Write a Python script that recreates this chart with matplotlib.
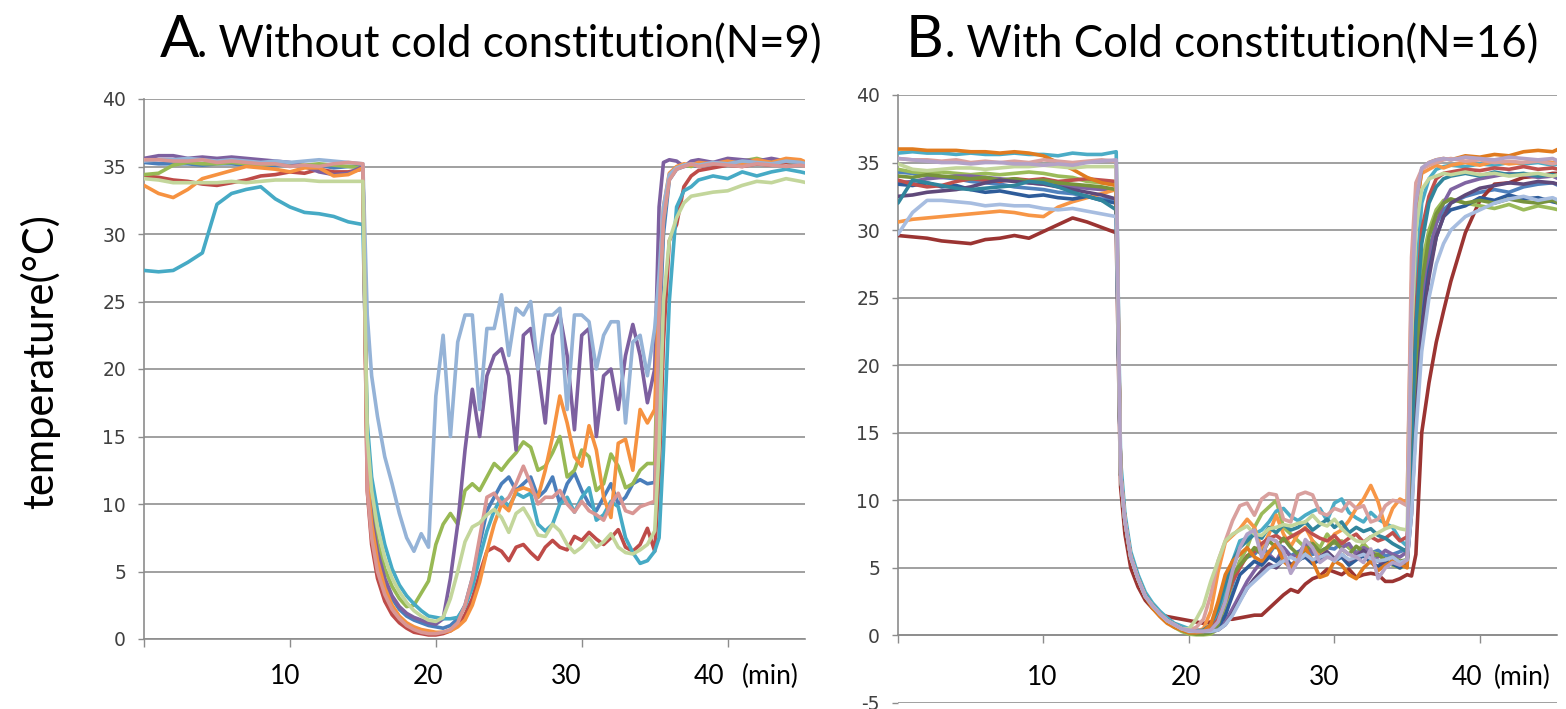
import matplotlib
matplotlib.use("Agg")
import matplotlib.pyplot as plt

plt.rcParams['font.family'] = ['Lato', 'DejaVu Sans']
plt.rcParams['axes.unicode_minus'] = False

# ---------------- time axis (minutes) ----------------
t = [0, 1, 2, 3, 4, 5, 6, 7, 8, 9, 10, 11, 12, 13, 14, 15,
     15.3, 15.6, 16, 16.5, 17, 17.5, 18, 18.5, 19, 19.5,
     20, 20.5, 21, 21.5, 22, 22.5, 23, 23.5, 24, 24.5, 25, 25.5, 26, 26.5, 27, 27.5,
     28, 28.5, 29, 29.5, 30, 30.5, 31, 31.5, 32, 32.5, 33, 33.5, 34, 34.5, 35,
     35.3, 35.6, 36, 36.5, 37, 37.5, 38, 39, 40, 41, 42, 43, 44, 45, 45.4]

# ---------------- Panel A: without cold constitution (N=9) ----------------
a1 = [35.3, 35.2, 35.2, 35.2, 35.1, 35.2, 35.2, 35.1, 35.0, 35.1, 35.2, 35.0, 35.1, 34.9, 35.0, 35.0,
      13, 9, 6.3, 4.3, 3.0, 2.2, 1.7, 1.4, 1.2, 1.0,
      0.9, 0.8, 1.0, 1.5, 2.5, 4.5, 7.0, 9.5, 10.5, 11.5, 12.0, 11.0, 11.5, 12.0, 10.5, 11.0,
      12.0, 10.0, 11.5, 12.3, 11.0, 10.0, 9.5, 10.5, 11.5, 10.0, 10.5, 11.5, 11.8, 11.5, 11.6,
      22, 30, 34, 34.8, 35.0, 35.1, 35.0, 35.2, 35.1, 35.3, 35.2, 35.4, 35.3, 35.2, 35.1]
a2 = [34.3, 34.2, 34.0, 33.9, 33.7, 33.6, 33.8, 34.0, 34.3, 34.4, 34.6, 34.5, 34.8, 34.6, 34.6, 34.8,
      11, 7, 4.5, 2.8, 1.8, 1.2, 0.8, 0.5, 0.4, 0.3,
      0.3, 0.4, 0.6, 1.0, 1.8, 3.0, 4.8, 6.5, 6.8, 6.5, 5.8, 6.8, 7.0, 6.4, 5.9, 6.8,
      7.3, 6.8, 6.6, 7.6, 7.3, 7.9, 7.4, 7.0, 7.5, 8.1, 6.8, 6.5, 7.0, 8.2, 6.5,
      12, 22, 29.5, 30.7, 33.5, 34.3, 34.7, 34.9, 35.1, 35.0, 35.2, 35.1, 35.3, 35.2, 35.1]
a3 = [34.4, 34.5, 35.1, 35.3, 35.2, 35.2, 35.3, 35.2, 35.1, 35.2, 35.2, 35.1, 35.2, 35.1, 35.0, 34.9,
      14, 10, 7.2, 5.2, 3.9, 3.0, 2.4, 2.5, 3.4, 4.3,
      7.0, 8.5, 9.3, 8.5, 11.0, 11.5, 11.0, 12.0, 13.0, 12.5, 13.2, 13.8, 14.6, 14.2, 12.5, 12.8,
      13.8, 15.0, 12.0, 12.5, 14.0, 13.5, 11.0, 11.5, 13.7, 12.8, 11.2, 11.5, 12.5, 13.0, 13.0,
      25, 31, 34.2, 34.9, 35.1, 35.0, 35.2, 35.3, 35.2, 35.4, 35.6, 35.3, 35.4, 35.2, 35.0]
a4 = [35.6, 35.8, 35.8, 35.6, 35.7, 35.6, 35.7, 35.6, 35.5, 35.4, 35.3, 35.0, 34.6, 34.4, 34.5, 35.0,
      13, 9, 6.5, 4.5, 3.2, 2.4, 1.9, 1.6, 1.4, 1.2,
      1.1, 1.5, 4.5, 8.5, 14.0, 18.5, 15.0, 19.5, 21.0, 21.5, 19.5, 14.0, 22.5, 23.0, 20.0, 16.0,
      22.5, 24.0, 21.0, 15.5, 22.5, 23.0, 15.0, 19.5, 20.0, 17.0, 21.0, 23.3, 21.0, 17.5, 20.0,
      32, 35.3, 35.5, 35.4, 35.0, 35.4, 35.5, 35.3, 35.6, 35.5, 35.4, 35.6, 35.4, 35.3, 35.2]
a5 = [27.3, 27.2, 27.3, 27.9, 28.6, 32.2, 33.0, 33.3, 33.5, 32.6, 32.0, 31.6, 31.5, 31.3, 30.9, 30.7,
      16, 12, 9.5, 7.0, 5.2, 4.0, 3.2, 2.6, 2.1, 1.7,
      1.6, 1.5, 1.5, 1.6, 2.4, 3.8, 6.0, 8.0, 9.5, 10.5, 9.8, 10.8, 10.5, 10.8, 8.5, 8.0,
      8.5, 10.0, 10.5, 9.4, 10.5, 11.2, 8.8, 9.2, 10.2, 9.8, 7.5, 6.4, 5.6, 5.8, 6.5,
      7.5, 14, 25, 32, 33.2, 33.5, 34.0, 34.3, 34.1, 34.6, 34.3, 34.6, 34.8, 34.6, 34.5]
a6 = [33.6, 33.0, 32.7, 33.3, 34.1, 34.4, 34.7, 35.0, 34.9, 34.8, 34.6, 34.9, 34.9, 34.3, 34.4, 34.9,
      12, 8.5, 5.8, 3.8, 2.5, 1.7, 1.2, 0.9, 0.7, 0.6,
      0.5, 0.5, 0.6, 0.9, 1.4, 2.5, 4.2, 6.5, 8.5, 10.0, 9.5, 11.0, 11.2, 11.0, 10.5, 12.5,
      15.0, 18.0, 16.0, 13.5, 12.8, 15.8, 14.0, 10.5, 9.0, 14.5, 14.8, 12.5, 17.0, 16.0, 17.0,
      26, 32, 34.5, 35.0, 35.2, 35.1, 35.3, 35.2, 35.4, 35.2, 35.5, 35.3, 35.6, 35.5, 35.3]
a7 = [35.4, 35.5, 35.5, 35.6, 35.5, 35.4, 35.5, 35.4, 35.3, 35.4, 35.3, 35.4, 35.5, 35.4, 35.3, 35.2,
      24, 19.5, 16.5, 13.5, 11.5, 9.3, 7.5, 6.5, 7.8, 6.8,
      18.0, 22.5, 15.0, 22.0, 24.0, 24.0, 17.0, 23.0, 23.0, 25.5, 21.0, 24.5, 24.0, 25.0, 20.0, 24.0,
      24.0, 24.5, 17.0, 24.0, 24.0, 23.5, 20.0, 22.5, 23.5, 23.5, 16.0, 22.0, 22.5, 19.5, 23.0,
      27, 32, 34.4, 34.9, 35.1, 35.2, 35.1, 35.3, 35.2, 35.4, 35.3, 35.2, 35.4, 35.3, 35.2]
a8 = [35.5, 35.5, 35.4, 35.4, 35.5, 35.3, 35.4, 35.3, 35.2, 35.2, 35.0, 35.1, 35.0, 35.2, 35.3, 35.2,
      11, 7.5, 5.0, 3.3, 2.2, 1.5, 1.0, 0.7, 0.5, 0.4,
      0.4, 0.5, 0.7, 1.2, 2.5, 4.5, 7.5, 10.5, 10.8, 10.0, 10.5, 11.5, 12.8, 11.5, 10.0, 10.5,
      10.5, 11.0, 10.0, 9.4, 10.2, 9.5, 9.2, 8.8, 10.0, 10.8, 9.5, 9.3, 9.8, 10.0, 10.2,
      24, 31, 34, 34.8, 35.0, 35.2, 35.0, 35.2, 35.1, 35.0, 35.2, 35.1, 35.0, 35.1, 35.0]
a9 = [34.1, 34.0, 33.8, 33.8, 33.8, 33.8, 33.9, 33.8, 33.9, 34.0, 34.0, 34.0, 33.9, 33.9, 33.9, 33.9,
      15, 11, 8.3, 6.0, 4.5, 3.5, 2.7, 2.1, 1.7, 1.4,
      1.3, 1.6, 3.0, 5.0, 7.2, 8.3, 8.6, 9.2, 9.6, 9.0, 7.9, 9.3, 9.7, 8.8, 7.7, 7.6,
      8.5, 8.0, 7.0, 6.4, 6.8, 7.5, 6.8, 7.2, 7.8, 6.8, 6.4, 6.3, 6.6, 7.0, 8.0,
      14, 25, 29.5, 31.2, 32.3, 32.8, 32.9, 33.1, 33.2, 33.6, 33.9, 33.8, 34.1, 33.9, 33.8]

seriesA = [a1, a2, a3, a4, a5, a6, a7, a8, a9]
colorsA = ['#4A7EBB', '#BE4B48', '#98B954', '#7D60A0', '#46AAC5',
           '#F69240', '#95B3D7', '#D99694', '#C3D69B']

# ---------------- Panel B: with cold constitution (N=16) ----------------
b1 = [34.3, 34.2, 34.0, 33.9, 33.8, 33.6, 33.5, 33.4, 33.2, 33.1, 33.0, 32.8, 32.7, 32.5, 32.3, 32.3,
      12, 8.5, 5.8, 4.2, 2.9, 2.2, 1.6, 1.1, 0.8, 0.5,
      0.3, 0.3, 0.3, 0.4, 0.8, 2.0, 3.8, 5.5, 5.8, 6.0, 6.6, 6.0, 6.8, 6.5, 5.9, 6.2,
      6.4, 6.0, 6.2, 6.5, 6.4, 6.9, 6.5, 6.2, 6.4, 6.1, 6.3, 5.9, 6.0, 6.2, 6.4,
      12, 20, 25, 28.5, 30.5, 31.5, 32.0, 32.5, 32.8, 33.0, 32.8, 33.2, 33.4, 33.5, 33.3]
b2 = [29.6, 29.5, 29.4, 29.2, 29.1, 29.0, 29.3, 29.4, 29.6, 29.4, 29.9, 30.4, 30.9, 30.6, 30.2, 29.8,
      11, 7.5, 5.0, 3.6, 2.6, 2.0, 1.6, 1.4, 1.3, 1.2,
      1.1, 1.0, 0.9, 1.0, 1.2, 1.2, 1.2, 1.3, 1.4, 1.5, 1.5, 2.0, 2.5, 3.0, 3.4, 3.2,
      3.8, 4.2, 4.4, 4.9, 4.7, 4.5, 4.9, 4.3, 4.5, 4.6, 4.5, 4.0, 4.0, 4.2, 4.5,
      4.4, 6, 15, 18.7, 21.7, 24, 26.2, 29.8, 32.2, 33.4, 33.5, 33.9, 34.0, 34.2, 34.2]
b3 = [34.5, 34.3, 34.2, 34.3, 34.2, 34.1, 34.2, 34.1, 34.2, 34.3, 34.2, 34.0, 33.9, 33.6, 33.5, 33.4,
      12, 8.5, 5.8, 4.2, 2.9, 2.1, 1.5, 1.0, 0.6, 0.3,
      0.1, 0.05, 0.05, 0.1, 0.5, 2.0, 4.0, 5.5, 6.5, 8.0, 9.0, 9.5, 10.0, 8.0, 7.5, 7.0,
      6.5, 7.0, 6.5, 7.5, 6.8, 7.0, 6.5, 6.0, 6.8, 6.2, 6.0, 5.5, 5.2, 5.0, 5.2,
      14, 22, 27.5, 30, 31.5, 32.2, 32.3, 32.0, 31.8, 31.6, 31.9, 31.5, 31.8, 31.6, 31.5]
b4 = [33.5, 33.6, 33.8, 33.9, 34.0, 34.0, 33.9, 33.8, 33.7, 33.5, 33.4, 33.3, 33.2, 33.1, 33.0, 33.0,
      12, 8.5, 5.8, 4.2, 2.9, 2.2, 1.6, 1.1, 0.8, 0.5,
      0.3, 0.3, 0.3, 0.3, 0.5, 1.0, 2.0, 3.0, 4.0, 4.8, 5.5, 6.0, 5.5, 6.5, 5.8, 6.0,
      6.8, 6.2, 6.0, 6.5, 7.0, 6.5, 6.8, 6.0, 6.5, 6.2, 5.8, 6.3, 6.0, 5.8, 6.2,
      10, 18, 24, 28, 30.5, 32, 33, 33.5, 33.8, 34.0, 34.2, 34.1, 33.9, 34.0, 33.8]
b5 = [35.7, 35.8, 35.7, 35.7, 35.6, 35.7, 35.6, 35.6, 35.7, 35.6, 35.6, 35.5, 35.7, 35.6, 35.6, 35.8,
      13, 9, 6.2, 4.5, 3.2, 2.4, 1.8, 1.3, 0.9, 0.7,
      0.5, 0.4, 0.4, 0.5, 1.5, 3.5, 5.5, 7.0, 7.2, 7.5, 7.8, 8.4, 9.2, 9.4, 8.8, 8.5,
      8.9, 9.2, 9.4, 8.5, 9.8, 10.1, 9.1, 8.7, 8.4, 9.1, 8.6, 8.3, 8.0, 7.1, 6.6,
      15, 26, 32, 33.8, 34.5, 34.7, 34.8, 34.7, 34.9, 34.8, 35.0, 34.9, 35.0, 34.8, 34.9]
b6 = [30.6, 30.8, 30.9, 31.0, 31.1, 31.2, 31.3, 31.4, 31.3, 31.1, 31.0, 31.7, 32.1, 32.4, 32.7, 33.0,
      12, 8.5, 5.8, 4.2, 2.9, 2.2, 1.6, 1.1, 0.8, 0.5,
      0.3, 0.3, 0.5, 1.8, 4.7, 6.9, 7.4, 7.9, 8.6, 8.0, 6.4, 7.5, 8.9, 7.5, 6.6, 7.5,
      8.0, 7.0, 5.7, 6.5, 7.5, 7.8, 8.5, 9.4, 10.1, 11.1, 9.9, 8.0, 9.4, 10.1, 9.8,
      26, 32, 34.2, 34.5, 34.8, 34.6, 34.8, 35.0, 34.8, 35.1, 34.9, 35.0, 35.2, 35.0, 35.1]
b7 = [33.4, 33.3, 33.5, 33.2, 33.3, 33.0, 32.8, 32.9, 32.7, 32.5, 32.6, 32.4, 32.3, 32.5, 32.2, 32.0,
      12, 8.5, 5.8, 4.2, 2.9, 2.2, 1.6, 1.1, 0.8, 0.5,
      0.3, 0.3, 0.3, 0.3, 0.6, 1.5, 3.0, 4.5, 5.0, 5.5, 5.2, 5.8, 5.5, 6.0, 5.2, 5.6,
      5.8, 5.3, 5.6, 6.0, 5.5, 5.8, 5.2, 5.6, 5.9, 5.4, 5.1, 5.5, 5.3, 5.0, 5.4,
      10, 17, 23, 27, 29.5, 31, 31.5, 31.8, 32.4, 32.2, 32.6, 32.3, 32.4, 32.1, 32.0]
b8 = [33.7, 33.4, 33.2, 33.3, 33.6, 33.8, 33.7, 33.6, 33.8, 33.7, 33.8, 33.6, 33.7, 33.8, 33.7, 33.6,
      12, 8.5, 5.8, 4.2, 2.9, 2.2, 1.6, 1.1, 0.8, 0.5,
      0.3, 0.3, 0.3, 0.5, 1.2, 2.5, 4.0, 5.0, 5.9, 6.2, 6.8, 7.2, 7.4, 7.0, 7.3, 7.6,
      7.9, 7.5, 7.2, 7.0, 7.4, 6.8, 7.2, 7.5, 6.9, 7.3, 7.0, 7.2, 7.6, 7.0, 7.3,
      14, 24, 30, 32.5, 33.8, 34.2, 34.3, 34.5, 34.4, 34.6, 34.5, 34.7, 34.5, 34.6, 34.5]
b9 = [34.0, 33.9, 34.1, 34.0, 33.9, 33.8, 33.9, 33.7, 33.8, 33.6, 33.7, 33.5, 33.4, 33.3, 33.2, 33.0,
      12, 8.5, 5.8, 4.2, 2.9, 2.2, 1.6, 1.1, 0.7, 0.4,
      0.2, 0.1, 0.1, 0.2, 0.8, 2.5, 4.5, 5.2, 5.8, 6.5, 6.0, 7.0, 6.5, 7.2, 6.5, 6.0,
      6.3, 6.8, 6.2, 6.5, 7.0, 6.4, 6.0, 6.6, 6.2, 5.8, 6.0, 5.6, 5.8, 5.5, 5.6,
      12, 20, 26, 29.5, 31.2, 32.0, 32.3, 32.0, 32.2, 32.0, 32.3, 32.1, 32.0, 32.2, 32.0]
b10 = [32.5, 32.6, 32.8, 32.9, 33.0, 33.2, 33.5, 33.7, 33.6, 33.5, 33.4, 33.2, 33.0, 32.8, 32.6, 32.3,
       12, 8.5, 5.8, 4.2, 2.9, 2.2, 1.6, 1.1, 0.8, 0.5,
       0.3, 0.3, 0.3, 0.3, 0.4, 0.8, 1.6, 2.6, 3.5, 4.2, 4.8, 5.3, 5.0, 5.6, 5.2, 5.5,
       6.0, 5.5, 5.8, 6.2, 5.7, 6.0, 5.5, 5.8, 6.3, 5.8, 5.5, 5.2, 5.5, 5.3, 5.6,
       9, 16, 22.5, 26.5, 29.5, 31, 32.0, 32.6, 33.1, 33.3, 33.5, 33.4, 33.6, 33.5, 33.4]
b11 = [32.0, 33.7, 33.5, 33.3, 33.1, 33.0, 33.1, 33.2, 33.3, 33.6, 33.5, 33.2, 32.8, 32.5, 32.2, 31.5,
       12, 8.5, 5.8, 4.2, 2.9, 2.2, 1.6, 1.1, 0.8, 0.5,
       0.3, 0.3, 0.4, 0.8, 2.0, 3.8, 5.5, 6.5, 7.0, 7.5, 7.2, 8.0, 7.6, 8.2, 7.8, 8.0,
       8.4, 7.8, 8.2, 8.6, 8.0, 8.4, 7.6, 8.0, 7.7, 7.9, 7.4, 7.2, 6.8, 6.5, 6.2,
       14, 23, 29, 32, 33.2, 33.8, 34.0, 34.2, 34.0, 34.3, 34.1, 34.2, 34.0, 34.1, 34.0]
b12 = [36.0, 36.0, 35.9, 35.9, 35.9, 35.8, 35.8, 35.7, 35.8, 35.7, 35.5, 35.0, 34.5, 33.9, 33.5, 33.3,
       12, 8.5, 5.8, 4.2, 2.9, 2.0, 1.4, 0.9, 0.6, 0.4,
       0.2, 0.2, 0.3, 0.8, 2.5, 4.5, 5.5, 6.0, 6.5, 5.8, 5.5, 6.2, 6.8, 5.5, 5.0, 5.8,
       6.5, 5.5, 4.3, 4.5, 5.5, 5.2, 4.5, 4.2, 5.0, 5.5, 4.8, 5.2, 5.5, 5.3, 5.0,
       22, 31, 34.5, 35.0, 35.2, 35.3, 35.2, 35.5, 35.4, 35.6, 35.5, 35.8, 35.9, 35.8, 36.0]
b13 = [29.7, 31.3, 32.2, 32.2, 32.1, 32.0, 31.8, 31.9, 31.8, 31.8, 31.6, 31.5, 31.6, 31.4, 31.2, 31.0,
       12, 8.5, 5.8, 4.2, 2.9, 2.2, 1.6, 1.1, 0.8, 0.5,
       0.3, 0.3, 0.3, 0.3, 0.4, 0.8, 1.5, 2.5, 3.5, 4.0, 4.5, 5.0, 5.2, 5.5, 5.8, 5.5,
       6.0, 5.6, 5.8, 6.0, 5.5, 6.0, 5.6, 5.8, 6.0, 5.7, 5.5, 5.6, 5.8, 5.4, 5.6,
       9, 15, 21, 25, 27.5, 29, 30, 31.0, 31.5, 32.0, 32.3, 32.5, 32.2, 32.4, 32.2]
b14 = [35.3, 35.2, 35.2, 35.1, 35.2, 35.0, 35.1, 35.0, 35.1, 35.0, 35.2, 35.1, 35.0, 35.1, 35.2, 35.1,
       12, 8.5, 5.8, 4.2, 2.9, 2.2, 1.6, 1.1, 0.8, 0.5,
       0.4, 0.6, 1.2, 3.0, 5.5, 7.0, 8.5, 9.6, 9.8, 8.9, 10.1, 10.5, 10.4, 8.6, 8.4, 10.4,
       10.6, 10.4, 9.1, 8.9, 9.4, 9.2, 9.9, 9.4, 9.6, 8.4, 8.6, 9.6, 10.0, 9.9, 9.6,
       28, 33.5, 34.5, 34.8, 35.0, 35.2, 35.3, 35.1, 35.2, 35.0, 35.1, 35.0, 35.1, 34.9, 35.0]
b15 = [34.9, 34.5, 34.4, 34.5, 34.6, 34.6, 34.5, 34.6, 34.7, 34.7, 34.8, 34.7, 34.6, 34.7, 34.7, 34.7,
       12, 8.5, 5.8, 4.2, 2.9, 2.2, 1.6, 1.1, 0.8, 0.5,
       0.5, 1.2, 2.2, 4.0, 5.5, 7.0, 7.5, 7.8, 8.1, 7.5, 7.4, 7.9, 8.0, 8.2, 8.1, 8.3,
       8.4, 8.9, 8.3, 8.1, 8.6, 7.9, 7.4, 7.0, 6.9, 7.3, 7.6, 7.9, 8.1, 7.9, 7.8,
       22, 30, 33, 33.8, 34.0, 34.2, 34.1, 34.3, 34.1, 34.2, 34.0, 34.1, 34.2, 34.0, 34.1]
b16 = [35.3, 35.2, 35.1, 35.0, 35.0, 34.9, 35.0, 35.0, 34.9, 34.9, 34.8, 34.9, 34.8, 35.0, 35.1, 35.2,
       12, 8.5, 5.8, 4.2, 2.9, 2.2, 1.6, 1.1, 0.8, 0.5,
       0.4, 0.3, 0.3, 0.4, 1.0, 2.5, 4.8, 6.5, 7.5, 7.8, 5.8, 7.2, 7.0, 6.2, 4.6, 5.5,
       7.1, 6.5, 5.4, 5.8, 5.6, 6.4, 6.0, 5.8, 5.4, 6.4, 4.2, 5.0, 5.4, 5.2, 5.6,
       24, 32, 34.6, 35.0, 35.2, 35.3, 35.2, 35.4, 35.3, 35.2, 35.4, 35.3, 35.2, 35.3, 35.1]

seriesB = [b1, b2, b3, b4, b5, b6, b7, b8, b9, b10, b11, b12, b13, b14, b15, b16]
colorsB = ['#4F81BD', '#9B3432', '#9BBB59', '#8064A2', '#4BACC6', '#F79646',
           '#2E5C9A', '#C0504D', '#77933C', '#5F497A', '#31859C', '#E07B1F',
           '#A7BDE0', '#D9A09E', '#C3D69B', '#B3A2C7']

x_tick_labels = ['10', '20', '30', '40']
x_unit = '(min)'

# ---------------- figure ----------------
W, H = 1566, 709
fig = plt.figure(figsize=(W / 100, H / 100), dpi=100)

def px_axes(left, right, top, bottom):
    return fig.add_axes([left / W, 1 - bottom / H, (right - left) / W, (bottom - top) / H])

axA = px_axes(144, 805, 99, 639)
axB = px_axes(898, 1557, 95, 703)

grid_c = '#A0A0A0'
spine_c = '#8C8C8C'
tick_c = '#404040'

def style(ax, ymin):
    ax.set_xlim(0, 45.3)
    ax.set_ylim(ymin, 40)
    ax.set_yticks(list(range(ymin, 41, 5)))
    ax.set_xticks([0, 10, 20, 30, 40])
    ax.set_xticklabels([])
    ax.yaxis.grid(True, color=grid_c, linewidth=1.4, zorder=0)
    ax.set_axisbelow(True)
    for s in ['top', 'right']:
        ax.spines[s].set_visible(False)
    ax.spines['left'].set_color(spine_c)
    ax.spines['bottom'].set_color(spine_c)
    ax.spines['left'].set_linewidth(1.2)
    ax.spines['bottom'].set_linewidth(1.2)
    ax.spines['bottom'].set_position(('data', 0))
    ax.spines['left'].set_bounds(0, 40)
    ax.tick_params(axis='y', length=4, width=1.0, color=spine_c, pad=9,
                   labelsize=13.5, labelcolor=tick_c)
    ax.tick_params(axis='x', length=6, width=1.0, color=spine_c, direction='out')
    for lab in ax.get_yticklabels():
        lab.set_fontfamily('DejaVu Sans')

style(axA, 0)
style(axB, -5)

for ys, c in zip(seriesA, colorsA):
    axA.plot(t, ys, color=c, lw=2.6, solid_joinstyle='round', solid_capstyle='round', zorder=3)
for ys, c in zip(seriesB, colorsB):
    axB.plot(t, ys, color=c, lw=2.6, solid_joinstyle='round', solid_capstyle='round', zorder=3)

# x labels (drawn under the axis, as in the original)
posA = [9.7, 19.5, 28.9, 38.7]
posB = [9.9, 19.8, 29.3, 39.1]
for ax, pos, yoff in [(axA, posA, -2.75), (axB, posB, -3.1)]:
    for p, lab in zip(pos, x_tick_labels):
        ax.text(p, yoff, lab, ha='center', va='center', fontsize=19, color='black', clip_on=False)
    ax.text(42.9, yoff, x_unit, ha='center', va='center', fontsize=19, color='black', clip_on=False)

# y label
fig.text(40 / W, 1 - 362 / H, 'temperature(\u00b0C)', rotation=90, ha='center', va='center',
         fontsize=30, color='black')

# titles
base = 1 - 57 / H
fig.text(160 / W, base, 'A', fontsize=42, va='baseline', ha='left', color='black')
fig.text(197 / W, base, '. Without cold constitution(N=9)', fontsize=31.5, va='baseline', ha='left', color='black')
fig.text(906 / W, base, 'B', fontsize=42, va='baseline', ha='left', color='black')
fig.text(945 / W, base, '. With Cold constitution(N=16)', fontsize=31.5, va='baseline', ha='left', color='black')

fig.savefig('out.png', dpi=100)
